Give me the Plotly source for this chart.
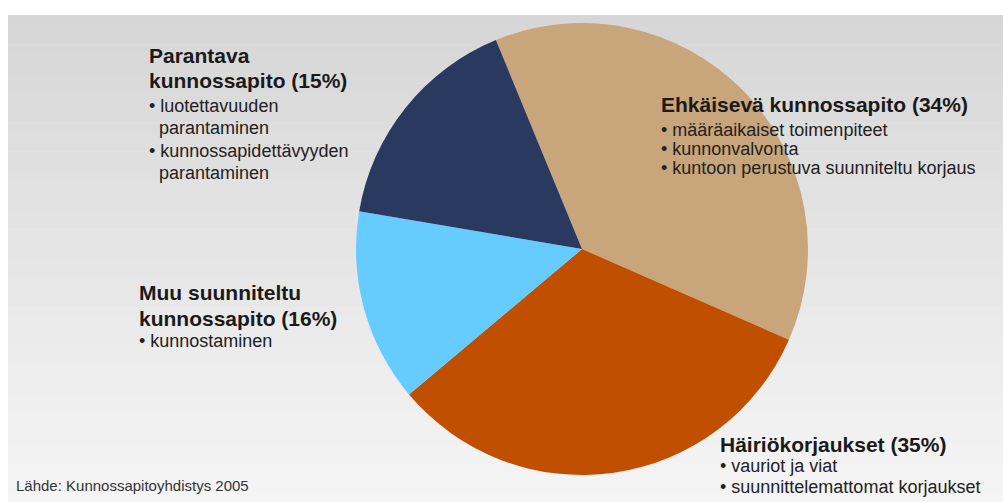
import plotly.graph_objects as go

# ---- data ----
categories = ["Ehkäisevä kunnossapito", "Häiriökorjaukset",
              "Muu suunniteltu kunnossapito", "Parantava kunnossapito"]
shares = [37.8, 32.3, 13.8, 16.1]          # visual slice sizes
stated_pct = [34, 35, 16, 15]               # percentages printed in the labels
slice_colors = ["#C8A57A", "#C05000", "#66CCFF", "#29395F"]

W, H = 1003, 502

fig = go.Figure()
fig.add_trace(go.Pie(
    labels=categories, values=shares, sort=False, direction="clockwise",
    rotation=-22.4, textinfo="none", hoverinfo="skip", showlegend=False,
    marker=dict(colors=slice_colors, line=dict(width=0)),
    domain=dict(x=[(582 - 226) / W, (582 + 226) / W],
                y=[(H - 249 - 226) / H, (H - 249 + 226) / H]),
))

# background gradient (light grey, darker at top)
shapes = []
top, n = 15, 50
step = (H - top) / n
c0, c1 = 214, 245
for i in range(n):
    v = round(c0 + (c1 - c0) * i / (n - 1))
    y0 = top + i * step
    shapes.append(dict(type="rect", xref="paper", yref="paper", layer="below",
                       x0=8 / W, x1=1, y0=1 - (y0 + step + 0.5) / H, y1=1 - y0 / H,
                       fillcolor=f"rgb({v},{v},{v})", line=dict(width=0)))

FONT = "Liberation Sans, Arial, sans-serif"
annotations = []
DX = -3  # annotation inner padding compensation


def line(txt, x, y, size, bold=False, color="#1a1a1a"):
    annotations.append(dict(
        text=f"<b>{txt}</b>" if bold else txt, x=(x + DX) / W, y=1 - y / H,
        xref="paper", yref="paper", xanchor="left", yanchor="middle",
        showarrow=False, font=dict(family=FONT, size=size, color=color)))


# Parantava
line("Parantava", 150, 55, 21, True)
line(f"kunnossapito ({stated_pct[3]}%)", 150, 81, 21, True)
line("• luotettavuuden", 150, 106, 18, color="#222")
line("parantaminen", 160, 128, 18, color="#222")
line("• kunnossapidettävyyden", 150, 151, 18, color="#222")
line("parantaminen", 160, 173, 18, color="#222")
# Ehkäisevä
line(f"Ehkäisevä kunnossapito ({stated_pct[0]}%)", 662, 104, 21, True)
line("• määräaikaiset toimenpiteet", 662, 130, 18, color="#222")
line("• kunnonvalvonta", 662, 149, 18, color="#222")
line("• kuntoon perustuva suunniteltu korjaus", 662, 168, 18, color="#222")
# Muu suunniteltu
line("Muu suunniteltu", 140, 292, 21, True)
line(f"kunnossapito ({stated_pct[2]}%)", 140, 318, 21, True)
line("• kunnostaminen", 140, 341, 18, color="#222")
# Häiriökorjaukset
line(f"Häiriökorjaukset ({stated_pct[1]}%)", 721, 444, 21, True)
line("• vauriot ja viat", 721, 466, 18, color="#222")
line("• suunnittelemattomat korjaukset", 721, 487, 18, color="#222")
# source
line("Lähde: Kunnossapitoyhdistys 2005", 17, 485, 15, color="#333")

fig.update_layout(
    width=W, height=H, margin=dict(l=0, r=0, t=0, b=0),
    paper_bgcolor="white", plot_bgcolor="white",
    shapes=shapes, annotations=annotations,
)
fig.write_html("out.html")
